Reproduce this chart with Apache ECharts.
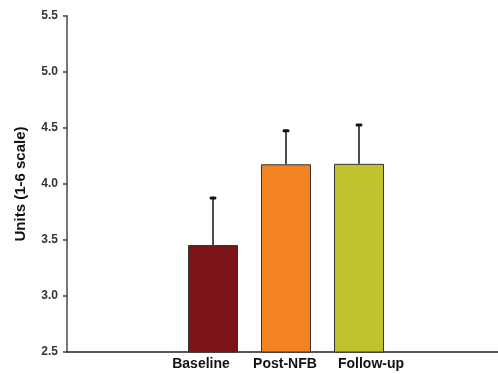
<!DOCTYPE html>
<html>
<head>
<meta charset="utf-8">
<script src="https://cdn.jsdelivr.net/npm/echarts@6/dist/echarts.min.js"></script>
<style>html,body{margin:0;padding:0;background:#fff}#c{width:498px;height:374px}</style>
</head>
<body>
<div id="c"></div>
<script>
var categories = ['', '', 'Baseline', 'Post-NFB', 'Follow-up', '', ''];
var means = [null, null, 3.455, 4.176, 4.18, null, null];
var errUpper = [null, null, 3.875, 4.476, 4.527, null, null];
var barColors = ['#7b1416', '#f58220', '#c2c12f'];
var yTicks = [2.5, 3.0, 3.5, 4.0, 4.5, 5.0, 5.5];

var chart = echarts.init(document.getElementById('c'), null, {renderer: 'canvas'});
var barData = means.map(function (v, i) {
  if (v === null) return '-';
  return {value: v, itemStyle: {color: barColors[i - 2]}};
});
var errData = [];
errUpper.forEach(function (u, i) {
  if (u !== null) errData.push([i, means[i], u]);
});
var labelStyle = {color: '#111', fontWeight: 'bold', fontSize: 14, fontFamily: 'Liberation Sans, Arial'};
chart.setOption({
  animation: false,
  grid: {left: 67, top: 16, bottom: 22, width: 438, outerBoundsMode: 'none', containLabel: false},
  xAxis: {
    type: 'category',
    data: categories,
    boundaryGap: false,
    axisLine: {lineStyle: {color: '#222', width: 1.5}},
    axisTick: {show: false},
    axisLabel: {
      margin: 5, interval: 0,
      formatter: function (v) {
        if (v === 'Baseline') return '{l|' + v + '}';
        if (v === 'Follow-up') return '{r|' + v + '}';
        if (v === '') return '';
        return '{m|' + v + '}';
      },
      rich: {
        l: Object.assign({padding: [0, 24, 0, 0]}, labelStyle),
        m: Object.assign({padding: [0, 2, 0, 0]}, labelStyle),
        r: Object.assign({padding: [0, 0, 0, 24]}, labelStyle)
      }
    }
  },
  yAxis: {
    type: 'value',
    min: yTicks[0], max: yTicks[yTicks.length - 1], interval: 0.5,
    name: 'Units (1-6 scale)',
    nameLocation: 'middle',
    nameGap: 39,
    nameTextStyle: {color: '#111', fontWeight: 'bold', fontSize: 15, fontFamily: 'Liberation Sans, Arial'},
    splitLine: {show: false},
    axisLine: {show: true, lineStyle: {color: '#777', width: 2}},
    axisTick: {show: true, length: 4, lineStyle: {color: '#444', width: 1.5}},
    axisLabel: {color: '#333', fontWeight: 'bold', fontSize: 12, fontFamily: 'Liberation Sans, Arial', margin: 9,
      formatter: function (v) { return v.toFixed(1); }}
  },
  series: [
    {
      type: 'bar',
      data: barData,
      barWidth: 50,
      itemStyle: {borderColor: '#333', borderWidth: 1}
    },
    {
      type: 'custom',
      data: errData,
      z: 5,
      renderItem: function (params, api) {
        var base = api.coord([api.value(0), api.value(1)]);
        var top = api.coord([api.value(0), api.value(2)]);
        return {
          type: 'group',
          children: [
            {type: 'line', shape: {x1: base[0], y1: base[1], x2: top[0], y2: top[1]}, style: {stroke: '#111', lineWidth: 1.5}},
            {type: 'rect', shape: {x: top[0] - 3.5, y: top[1] - 1.5, width: 7, height: 3, r: 1.5}, style: {fill: '#111'}}
          ]
        };
      }
    }
  ]
});
</script>
</body>
</html>
